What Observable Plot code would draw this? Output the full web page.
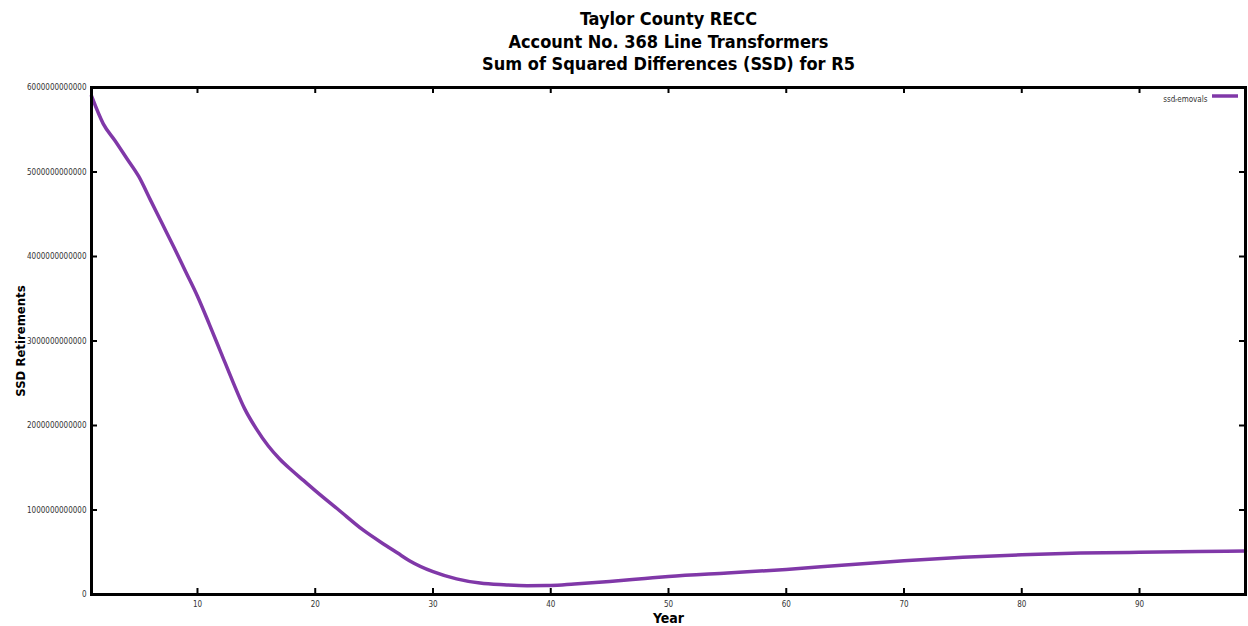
<!DOCTYPE html>
<html>
<head>
<meta charset="utf-8">
<script src="https://cdn.jsdelivr.net/npm/d3@7"></script>
<script src="https://cdn.jsdelivr.net/npm/@observablehq/plot@0.6"></script>
<style>
  html, body { margin: 0; padding: 0; background: #fff; }
  #chart svg { display: block; }
</style>
</head>
<body>
<div id="chart"></div>
<script>
const titleLines = [
  "Taylor County RECC",
  "Account No. 368 Line Transformers",
  "Sum of Squared Differences (SSD) for R5"
];
const xLabel = "Year";
const yLabel = "SSD Retirements";
const legendLabel = "ssd\u1D63emovals";

const years = [1, 2, 3, 4, 5, 6, 7, 8, 9, 10, 11, 12, 13, 14, 15, 16, 17, 18, 19, 20,
  22, 24, 26, 27, 28, 30, 32, 34, 36, 38, 40, 42, 45, 48, 50, 55, 60, 65, 70, 75, 80, 85, 90, 95, 99];
const ssd = [5.90, 5.57, 5.37, 5.16, 4.95, 4.67, 4.39, 4.11, 3.82, 3.53, 3.20, 2.86, 2.52, 2.20, 1.96, 1.76, 1.60, 1.47, 1.35, 1.23,
  1.00, 0.77, 0.58, 0.49, 0.40, 0.27, 0.185, 0.135, 0.115, 0.105, 0.107, 0.125, 0.155, 0.19, 0.213, 0.255, 0.296, 0.35, 0.40, 0.44, 0.47, 0.49, 0.50, 0.51, 0.515].map(v => v * 1e12);

const xTicks = [10, 20, 30, 40, 50, 60, 70, 80, 90];
const yTicks = [0, 1e12, 2e12, 3e12, 4e12, 5e12, 6e12];

const data = years.map((y, i) => ({year: y, value: ssd[i]}));

const W = 1248, H = 626;
const mL = 91, mR = 3, mT = 87, mB = 32;
const plotW = W - mL - mR, plotH = H - mT - mB;
const lineColor = "#8038a8";
const fmt = d3.format("d");
const condensed = "DejaVu Sans Condensed, DejaVu Sans, sans-serif";

const chart = Plot.plot({
  width: W,
  height: H,
  marginLeft: mL,
  marginRight: mR,
  marginTop: mT,
  marginBottom: mB,
  style: {fontFamily: condensed, fontSize: "8px", color: "#222", background: "#fff"},
  x: {domain: [1, 99]},
  y: {domain: [0, 6e12]},
  marks: [
    Plot.axisX(xTicks, {anchor: "bottom", tickSize: 0, tickPadding: 7, label: null, fontSize: 8, fill: "#333", fontFamily: condensed}),
    Plot.axisY(yTicks, {anchor: "left", tickSize: 0, tickPadding: 5, label: null, tickFormat: d => fmt(d), fontSize: 8, fill: "#333", fontFamily: condensed}),
    Plot.line(data, {x: "year", y: "value", stroke: lineColor, strokeWidth: 3.5, curve: "monotone-x"}),
    Plot.tickX(xTicks, {x: d => d, stroke: "black", strokeWidth: 2, insetTop: plotH - 6}),
    Plot.tickX(xTicks, {x: d => d, stroke: "black", strokeWidth: 2, insetBottom: plotH - 6}),
    Plot.tickY(yTicks, {y: d => d, stroke: "black", strokeWidth: 2, insetRight: plotW - 6}),
    Plot.tickY(yTicks, {y: d => d, stroke: "black", strokeWidth: 2, insetLeft: plotW - 6}),
    Plot.frame({stroke: "black", strokeWidth: 3}),
    Plot.text(titleLines, {text: d => d, frameAnchor: "top", fontWeight: "bold", fontSize: 18, fill: "#000", fontFamily: condensed}),
    Plot.text([xLabel], {text: d => d, frameAnchor: "bottom", dy: 28, fontWeight: "bold", fontSize: 14, fill: "#000", fontFamily: condensed}),
    Plot.text([yLabel], {text: d => d, frameAnchor: "left", textAnchor: "middle", dx: -71, rotate: -90, fontWeight: "bold", fontSize: 13, fill: "#000", fontFamily: condensed}),
    Plot.text([legendLabel], {text: d => d, frameAnchor: "top-right", dx: -38, dy: 9, textAnchor: "end", fontSize: 8, fill: "#333", fontFamily: condensed})
  ]
});

// position the three title lines
const titleY = [18, 41, 63];
d3.select(chart).selectAll("text").filter(function() {
  return titleLines.includes(this.textContent);
}).each(function() {
  const i = titleLines.indexOf(this.textContent);
  d3.select(this).attr("y", null).attr("transform", `translate(${mL + plotW / 2},${titleY[i]})`).attr("dy", "0.35em");
});

// legend sample line
d3.select(chart).append("line")
  .attr("x1", W - mR - 33).attr("x2", W - mR - 7)
  .attr("y1", mT + 9).attr("y2", mT + 9)
  .attr("stroke", lineColor).attr("stroke-width", 3.5);

document.getElementById("chart").appendChild(chart);
</script>
</body>
</html>
